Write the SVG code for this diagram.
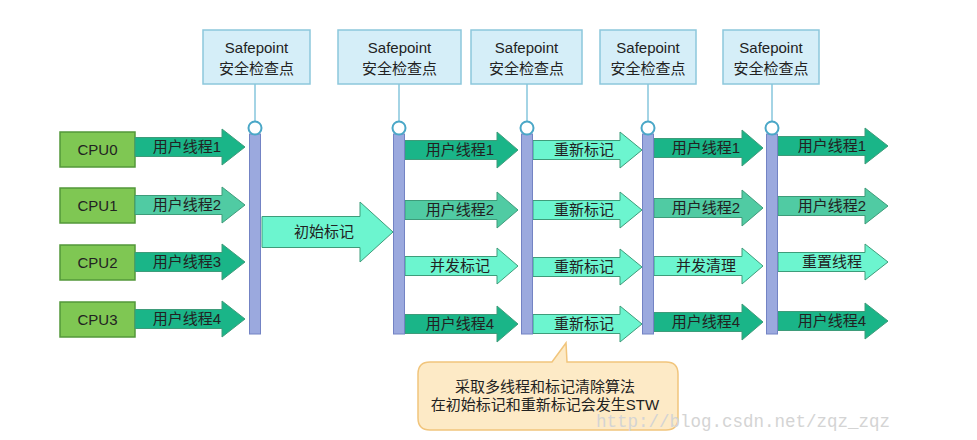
<svg xmlns="http://www.w3.org/2000/svg" width="977" height="440" viewBox="0 0 977 440">
<style>
text{font-family:"Liberation Sans","Noto Sans CJK SC",sans-serif;fill:#222;text-anchor:middle}
.sp{fill:#d5eef8;stroke:#8cc7dc;stroke-width:1.5}
.sp-t{font-size:15px}
.cpu{fill:#7fc753;stroke:#53983a;stroke-width:1.5}
.cpu-t{font-size:15px}
.ar{stroke:#3e9c7a;stroke-width:1}
.dk{fill:#1ab588}
.md{fill:#50cba3}
.lt{fill:#6cf5cf}
.at{font-size:15px}
.bar{fill:#9ba9de;stroke:#7383c4;stroke-width:1}
.ring{fill:#fff;stroke:#4aa7c7;stroke-width:2}
.conn{stroke:#86c6dc;stroke-width:1.5}
.note{fill:#fdeac6;stroke:#f1c57c;stroke-width:1.5}
.nt{font-size:15px}
.wm{font-family:"Liberation Mono",monospace;font-size:17.5px;fill:#d4d4d4;text-anchor:start}
</style>

<g id="safepoints">
<g id="sp1"><rect class="sp" x="203" y="30" width="107" height="54"/><text class="sp-t" x="256.5" y="53">Safepoint</text><text class="sp-t" x="256.5" y="74">安全检查点</text></g>
<g id="sp2"><rect class="sp" x="338" y="30" width="123" height="54"/><text class="sp-t" x="399.5" y="53">Safepoint</text><text class="sp-t" x="399.5" y="74">安全检查点</text></g>
<g id="sp3"><rect class="sp" x="471" y="30" width="111" height="54"/><text class="sp-t" x="526.5" y="53">Safepoint</text><text class="sp-t" x="526.5" y="74">安全检查点</text></g>
<g id="sp4"><rect class="sp" x="600" y="30" width="96" height="54"/><text class="sp-t" x="648" y="53">Safepoint</text><text class="sp-t" x="648" y="74">安全检查点</text></g>
<g id="sp5"><rect class="sp" x="723" y="30" width="96" height="54"/><text class="sp-t" x="771" y="53">Safepoint</text><text class="sp-t" x="771" y="74">安全检查点</text></g>
</g>

<g id="connectors">
<line class="conn" x1="255" y1="84" x2="255" y2="121"/>
<line class="conn" x1="399" y1="84" x2="399" y2="121"/>
<line class="conn" x1="527" y1="84" x2="527" y2="121"/>
<line class="conn" x1="648" y1="84" x2="648" y2="121"/>
<line class="conn" x1="772" y1="84" x2="772" y2="121"/>
</g>

<g id="cpus">
<g id="cpu0"><rect class="cpu" x="60" y="132" width="75" height="35"/><text class="cpu-t" x="97.5" y="155">CPU0</text></g>
<g id="cpu1"><rect class="cpu" x="60" y="188" width="75" height="35"/><text class="cpu-t" x="97.5" y="211">CPU1</text></g>
<g id="cpu2"><rect class="cpu" x="60" y="245" width="75" height="35"/><text class="cpu-t" x="97.5" y="268">CPU2</text></g>
<g id="cpu3"><rect class="cpu" x="60" y="302" width="75" height="35"/><text class="cpu-t" x="97.5" y="325">CPU3</text></g>
</g>

<g id="arrows-col1">
<g id="a1-0" transform="translate(0,147)"><path class="ar dk" d="M135 -9.5H222V-18L245 0L222 18V9.5H135Z"/><text class="at" x="187" y="5">用户线程1</text></g>
<g id="a1-1" transform="translate(0,205)"><path class="ar md" d="M135 -9.5H222V-18L245 0L222 18V9.5H135Z"/><text class="at" x="187" y="5">用户线程2</text></g>
<g id="a1-2" transform="translate(0,262)"><path class="ar dk" d="M135 -9.5H222V-18L245 0L222 18V9.5H135Z"/><text class="at" x="187" y="5">用户线程3</text></g>
<g id="a1-3" transform="translate(0,319)"><path class="ar dk" d="M135 -9.5H222V-18L245 0L222 18V9.5H135Z"/><text class="at" x="187" y="5">用户线程4</text></g>
</g>

<g id="arrow-init" transform="translate(0,232)"><path class="ar lt" d="M262 -15.5H360V-30L393 0L360 30V15.5H262Z"/><text class="at" x="324" y="5">初始标记</text></g>

<g id="arrows-col2">
<g id="a2-0" transform="translate(0,150)"><path class="ar dk" d="M405 -9.5H497V-18L518 0L497 18V9.5H405Z"/><text class="at" x="460" y="5">用户线程1</text></g>
<g id="a2-1" transform="translate(0,210)"><path class="ar md" d="M405 -9.5H497V-18L518 0L497 18V9.5H405Z"/><text class="at" x="460" y="5">用户线程2</text></g>
<g id="a2-2" transform="translate(0,266)"><path class="ar lt" d="M405 -9.5H497V-18L518 0L497 18V9.5H405Z"/><text class="at" x="460" y="5">并发标记</text></g>
<g id="a2-3" transform="translate(0,324)"><path class="ar dk" d="M405 -9.5H497V-18L518 0L497 18V9.5H405Z"/><text class="at" x="460" y="5">用户线程4</text></g>
</g>

<g id="arrows-col3">
<g id="a3-0" transform="translate(0,150)"><path class="ar lt" d="M533 -9.5H620V-18L642 0L620 18V9.5H533Z"/><text class="at" x="584" y="5">重新标记</text></g>
<g id="a3-1" transform="translate(0,210)"><path class="ar lt" d="M533 -9.5H620V-18L642 0L620 18V9.5H533Z"/><text class="at" x="584" y="5">重新标记</text></g>
<g id="a3-2" transform="translate(0,267)"><path class="ar lt" d="M533 -9.5H620V-18L642 0L620 18V9.5H533Z"/><text class="at" x="584" y="5">重新标记</text></g>
<g id="a3-3" transform="translate(0,324)"><path class="ar lt" d="M533 -9.5H620V-18L642 0L620 18V9.5H533Z"/><text class="at" x="584" y="5">重新标记</text></g>
</g>

<g id="arrows-col4">
<g id="a4-0" transform="translate(0,148)"><path class="ar dk" d="M654 -9.5H742V-18L763 0L742 18V9.5H654Z"/><text class="at" x="706" y="5">用户线程1</text></g>
<g id="a4-1" transform="translate(0,208)"><path class="ar md" d="M654 -9.5H742V-18L763 0L742 18V9.5H654Z"/><text class="at" x="706" y="5">用户线程2</text></g>
<g id="a4-2" transform="translate(0,266)"><path class="ar lt" d="M654 -9.5H742V-18L763 0L742 18V9.5H654Z"/><text class="at" x="706" y="5">并发清理</text></g>
<g id="a4-3" transform="translate(0,322)"><path class="ar dk" d="M654 -9.5H742V-18L763 0L742 18V9.5H654Z"/><text class="at" x="706" y="5">用户线程4</text></g>
</g>

<g id="arrows-col5">
<g id="a5-0" transform="translate(0,146)"><path class="ar dk" d="M778 -9.5H865V-18L888 0L865 18V9.5H778Z"/><text class="at" x="832" y="5">用户线程1</text></g>
<g id="a5-1" transform="translate(0,206)"><path class="ar md" d="M778 -9.5H865V-18L888 0L865 18V9.5H778Z"/><text class="at" x="832" y="5">用户线程2</text></g>
<g id="a5-2" transform="translate(0,262)"><path class="ar lt" d="M778 -9.5H865V-18L888 0L865 18V9.5H778Z"/><text class="at" x="832" y="5">重置线程</text></g>
<g id="a5-3" transform="translate(0,321)"><path class="ar dk" d="M778 -9.5H865V-18L888 0L865 18V9.5H778Z"/><text class="at" x="832" y="5">用户线程4</text></g>
</g>

<g id="bars">
<g id="bar1"><rect class="bar" x="249.5" y="134" width="11" height="200"/><circle class="ring" cx="255" cy="128" r="6.5"/></g>
<g id="bar2"><rect class="bar" x="393.5" y="134" width="11" height="200"/><circle class="ring" cx="399" cy="128" r="6.5"/></g>
<g id="bar3"><rect class="bar" x="521.5" y="134" width="11" height="200"/><circle class="ring" cx="527" cy="128" r="6.5"/></g>
<g id="bar4"><rect class="bar" x="642.5" y="134" width="11" height="200"/><circle class="ring" cx="648" cy="128" r="6.5"/></g>
<g id="bar5"><rect class="bar" x="766.5" y="134" width="11" height="200"/><circle class="ring" cx="772" cy="128" r="6.5"/></g>
</g>

<g id="note">
<path class="note" d="M430 362H552L566 343L567 362H666Q678 362 678 374V418Q678 430 666 430H430Q418 430 418 418V374Q418 362 430 362Z"/>
<text class="nt" x="545" y="392">采取多线程和标记清除算法</text>
<text class="nt" x="545" y="410">在初始标记和重新标记会发生STW</text>
</g>

<text class="wm" x="596" y="427">http://blog.csdn.net/zqz_zqz</text>
</svg>
